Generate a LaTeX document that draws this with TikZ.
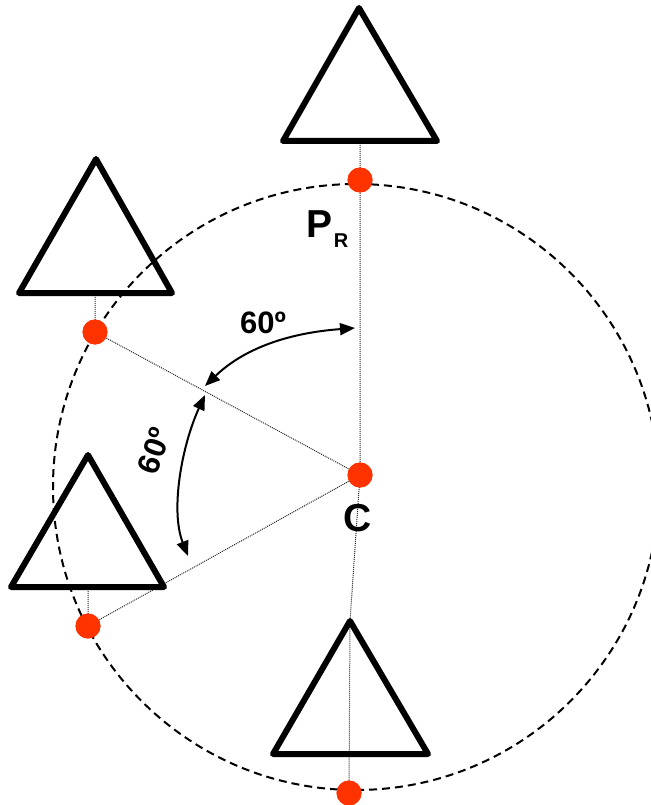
\documentclass[tikz,border=0pt]{standalone}
\usepackage{fontspec}
\setmainfont{Liberation Sans}
\usetikzlibrary{arrows.meta}
\definecolor{dotred}{HTML}{FF3300}
\begin{document}
\begin{tikzpicture}[x=1pt,y=-1pt,
 tri/.style={line width=6pt, line join=round, line cap=round},
 reddot/.style={circle, fill=dotred, minimum size=25pt, inner sep=0pt},
 guide/.style={densely dotted, line width=1pt, black!85},
 ring/.style={dash pattern=on 8pt off 5pt, line width=2pt},
 angarrow/.style={line width=2pt, {Triangle[length=15pt,width=12pt]}-{Triangle[length=15pt,width=12pt]}},
 lbl/.style={font=\bfseries\fontsize{31}{32}\selectfont, inner sep=0pt},
 big/.style={font=\bfseries\fontsize{39}{40}\selectfont, inner sep=0pt},
 small/.style={font=\bfseries\fontsize{20}{21}\selectfont, inner sep=0pt}
]
\useasboundingbox (0,0) rectangle (650,805);
% centre of the ring
\coordinate (ctr) at (356,487);
% triangle base centres and bottom apex
\coordinate (bT) at (360,141);
\coordinate (bL1) at (95,293);
\coordinate (bL2) at (88,587);
\coordinate (aB) at (350,621);
% red points (named)
\node[reddot] (PR) at (360,180) {};
\node[reddot] (L1) at (95,332) {};
\node[reddot] (L2) at (88,626) {};
\node[reddot] (C) at (360,475) {};
\node[reddot] (B) at (349,793) {};
% guide lines
\draw[guide] (bT) -- (PR.center) -- (C.center) -- (aB) -- (B.center);
\draw[guide] (bL1) -- (L1.center) -- (C.center);
\draw[guide] (bL2) -- (L2.center) -- (C.center);
% dashed ring
\draw[ring] (ctr) circle[radius=303];
% triangles
\draw[tri] (359,8) -- (437,141) -- (283,141) -- cycle;
\draw[tri] (96,159) -- (172,293) -- (19,293) -- cycle;
\draw[tri] (88,455) -- (164,587) -- (11,587) -- cycle;
\draw[tri] (350,621) -- (428,754) -- (273,754) -- cycle;
% redraw dots on top
\foreach \n in {PR,L1,L2,C,B} \fill[dotred] (\n.center) circle[radius=12.5];
% angle arrows
\coordinate (a1s) at (355,328);
\coordinate (a1e) at (205,386);
\coordinate (a2s) at (205,395);
\coordinate (a2e) at (188,556);
\draw[angarrow] (a1s) .. controls (315,331) and (255,338) .. (a1e);
\draw[angarrow] (a2s) .. controls (182,445) and (170,510) .. (a2e);
% labels
\node[lbl] (t1) at (263,323) {60º};
\node[lbl, rotate=70] (t2) at (154,451) {60º};
\node[big] (tP) at (320,224) {P};
\node[small] (tR) at (341,241) {R};
\node[big] (tC) at (358,518) {C};
\end{tikzpicture}
\end{document}
